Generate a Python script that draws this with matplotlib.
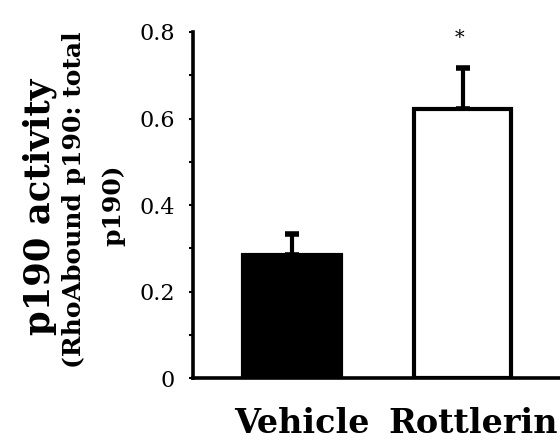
import matplotlib
matplotlib.use("Agg")
import matplotlib.pyplot as plt
from matplotlib.ticker import MultipleLocator

categories = ["Vehicle", "Rottlerin"]
values = [0.284, 0.621]
errors = [0.048, 0.095]
yticks = [0, 0.2, 0.4, 0.6, 0.8]
ytick_labels = ["0", "0.2", "0.4", "0.6", "0.8"]

SERIF = "DejaVu Serif"

fig = plt.figure(figsize=(5.6, 4.44), dpi=100)
ax = fig.add_axes([193/560, 66/444, 1 - 193/560, 346/444])

x = list(range(len(categories)))
ax.bar(x, values, width=0.57, color=["black", "white"], edgecolor="black",
       linewidth=3, zorder=2)
ax.errorbar(x, values, yerr=[[0, 0], errors], fmt="none", ecolor="black",
            elinewidth=3, capsize=5, capthick=4, zorder=1)

ax.set_xlim(-0.58, 1.57)
ax.set_ylim(0, 0.8)
ax.set_yticks(yticks)
ax.set_yticklabels(ytick_labels, fontfamily=SERIF, fontsize=16)
ax.yaxis.set_minor_locator(MultipleLocator(0.1))
ax.tick_params(axis="y", which="both", length=3, width=1.5, pad=10)
ax.set_xticks([])
for s in ["top", "right"]:
    ax.spines[s].set_visible(False)
ax.spines["left"].set_linewidth(2.6)
ax.spines["bottom"].set_linewidth(2.6)

# x category labels
for xi, lab in zip(x, categories):
    ax.text(xi + 0.06, -0.105, lab, ha="center", va="center",
            fontfamily=SERIF, fontweight="bold", fontsize=24,
            transform=ax.transData, clip_on=False)

# significance star
ax.text(1 - 0.02, 0.785, "*", ha="center", va="center",
        fontfamily=SERIF, fontsize=14)

# y labels
fig.text(40/560, 1 - 207/444, "p190 activity", rotation=90, ha="center",
         va="center", fontfamily=SERIF, fontweight="bold", fontsize=25.5)
fig.text(74/560, 1 - 200/444, "(RhoAbound p190: total", rotation=90,
         ha="center", va="center", fontfamily=SERIF,
         fontweight="bold", fontsize=18)
fig.text(113/560, 1 - 205/444, "p190)", rotation=90, ha="center",
         va="center", fontfamily=SERIF, fontweight="bold", fontsize=18)

fig.savefig("out.png", dpi=100)
